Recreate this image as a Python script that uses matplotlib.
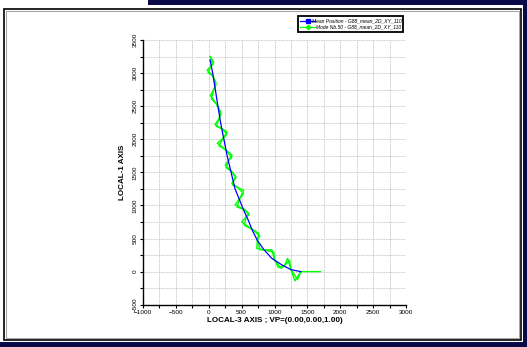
import matplotlib
matplotlib.use("Agg")
import matplotlib.pyplot as plt
from matplotlib.patches import Rectangle
from matplotlib.lines import Line2D
from matplotlib.ticker import MultipleLocator

plt.rcParams['font.family'] = ['Liberation Sans', 'DejaVu Sans']

# ---- data ----
mean_x = [20, 60, 100, 140, 180, 230, 280, 340, 400, 470, 530, 600, 660, 740, 840, 960, 1115, 1250, 1400]
mean_y = [3200, 3000, 2750, 2500, 2250, 2000, 1750, 1500, 1250, 1080, 930, 780, 630, 470, 330, 200, 100, 30, 0]

modeA_x = [20, 75, 30, -25, 60, 110, 80, 25, 120, 180, 160, 95, 200, 280, 220, 130, 260, 355, 300, 250,
           350, 410, 380, 350, 430, 530, 470, 400, 540, 610, 570, 500, 660, 760, 740, 730, 840, 960,
           1000, 1060, 1150, 1200, 1250, 1310, 1400, 1700]
modeA_y = [3250, 3170, 3100, 3045, 2960, 2860, 2760, 2660, 2530, 2420, 2320, 2220, 2160, 2110, 2020, 1940,
           1840, 1760, 1680, 1610, 1510, 1440, 1380, 1330, 1280, 1230, 1100, 1010, 940, 880, 830, 750,
           640, 580, 480, 350, 330, 330, 180, 60, 90, 200, 30, -140, 0, 0]

modeB_x = [20, 65, 30, -10, 60, 110, 80, 40, 120, 185, 160, 115, 200, 275, 220, 155, 260, 350, 300, 265,
           350, 415, 380, 365, 430, 530, 470, 430, 540, 615, 570, 540, 660, 775, 740, 780, 840, 990,
           1000, 1100, 1150, 1230, 1250, 1350, 1400]
modeB_y = [3250, 3135, 3100, 3005, 2960, 2820, 2760, 2610, 2530, 2380, 2320, 2195, 2160, 2075, 2020, 1900,
           1840, 1725, 1680, 1570, 1510, 1415, 1380, 1305, 1280, 1180, 1100, 975, 940, 860, 830, 700,
           640, 540, 480, 330, 330, 290, 180, 50, 90, 170, 30, -120, 0]

labels = ["Mean Position - G88_mean_2D_XY_110", "Mode Nb.50 - G88_mean_2D_XY_110"]
xlabel = "LOCAL-3 AXIS ; VP=(0.00,0.00,1.00)"
ylabel = "LOCAL-1 AXIS"

W, H = 527, 347
fig = plt.figure(figsize=(W / 100, H / 100), dpi=100)
fig.patch.set_facecolor('white')

navy = '#0a0a48'
def px_rect(x0, y0, x1, y1, **kw):
    fig.patches.append(Rectangle((x0 / W, 1 - y1 / H), (x1 - x0) / W, (y1 - y0) / H,
                                 transform=fig.transFigure, **kw))

# decorative frame
px_rect(148, 0, 527, 5, facecolor=navy, edgecolor='none')
px_rect(523, 0, 527, 347, facecolor=navy, edgecolor='none')
px_rect(0, 342, 527, 347, facecolor=navy, edgecolor='none')
px_rect(3.5, 8.5, 520.5, 339.5, facecolor='none', edgecolor='black', linewidth=1.2)
px_rect(5.5, 10.5, 518.5, 337.5, facecolor='none', edgecolor='#909090', linewidth=0.6)

ax = fig.add_axes([143 / W, 1 - 304.7 / H, (406 - 143) / W, (304.7 - 40) / H])
ax.set_facecolor('white')
ax.set_xlim(-1000, 3000)
ax.set_ylim(-500, 3500)
ax.xaxis.set_major_locator(MultipleLocator(500))
ax.xaxis.set_minor_locator(MultipleLocator(250))
ax.yaxis.set_major_locator(MultipleLocator(500))
ax.yaxis.set_minor_locator(MultipleLocator(250))
ax.grid(True, which='both', color='#c8c8c8', linestyle=(0, (2, 1)), linewidth=0.6)
ax.set_axisbelow(True)
for s in ['top', 'right']:
    ax.spines[s].set_visible(False)
for s in ['left', 'bottom']:
    ax.spines[s].set_linewidth(1.0)
ax.tick_params(which='both', direction='out', length=2.5, width=0.8, labelsize=4.6, pad=1.5)
for t in ax.get_yticklabels():
    t.set_rotation(90)
    t.set_va('center')

ax.plot(modeA_x, modeA_y, color='#00ff00', linewidth=1.0, zorder=3)
ax.plot(modeB_x, modeB_y, color='#00ff00', linewidth=1.0, zorder=3)
ax.plot(mean_x, mean_y, color='#0000ff', linewidth=0.9, zorder=4)

ax.set_xlabel(xlabel, fontsize=5.8, fontweight='bold', labelpad=1)
ax.set_ylabel(ylabel, fontsize=5.8, fontweight='bold', labelpad=5)

# legend box (manual)
px_rect(298, 16, 403, 32, facecolor='white', edgecolor='black', linewidth=1.3, zorder=5)
for i, (lab, col, mk) in enumerate(zip(labels, ['#0000ff', '#00ff00'], ['s', 'D'])):
    yy = 1 - (20.5 + 6 * i) / H
    fig.lines.append(Line2D([300 / W, 315 / W], [yy, yy], transform=fig.transFigure,
                            color=col, linewidth=0.9, zorder=6))
    fig.lines.append(Line2D([307.5 / W], [yy], transform=fig.transFigure, color=col,
                            marker=mk, markersize=2.2, zorder=6))
    fig.text(401.5 / W, yy, lab, fontsize=3.6, style='italic', ha='right', va='center', zorder=6)

fig.savefig('out.png', dpi=100)
